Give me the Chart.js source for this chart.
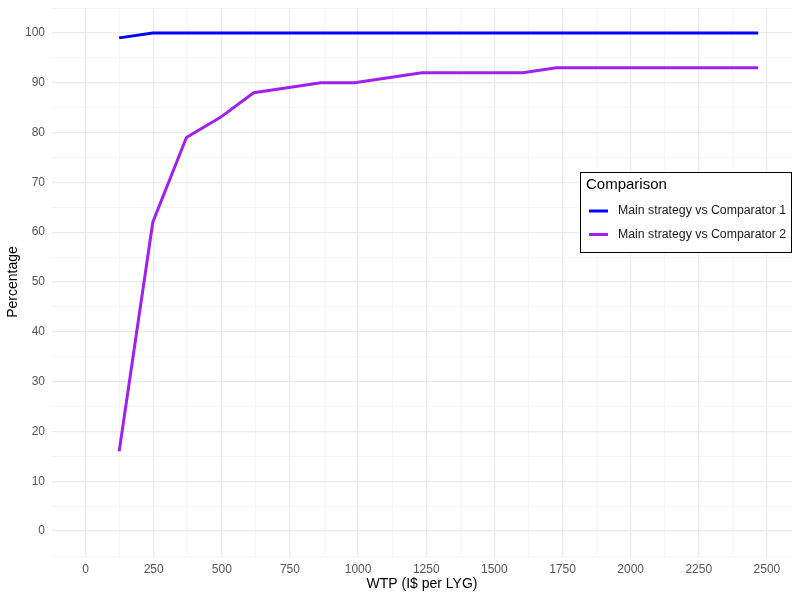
<!DOCTYPE html>
<html>
<head>
<meta charset="utf-8">
<script src="https://cdn.jsdelivr.net/npm/chart.js@4"></script>
<style>
html,body{margin:0;padding:0;background:#fff;}
#wrap{width:800px;height:600px;position:relative;}
</style>
</head>
<body>
<div id="wrap"><canvas id="c" width="800" height="600"></canvas></div>
<script>
// WTP values (I$ per LYG)
const wtp = [123.4, 246.8, 370.2, 493.6, 617, 740.4, 863.8, 987.2, 1110.6, 1234, 1357.4, 1480.8, 1604.2, 1727.6, 1851, 1974.4, 2097.8, 2221.2, 2344.6, 2468];
const comparator1 = [99, 100, 100, 100, 100, 100, 100, 100, 100, 100, 100, 100, 100, 100, 100, 100, 100, 100, 100, 100];
const comparator2 = [16, 62, 79, 83, 88, 89, 90, 90, 91, 92, 92, 92, 92, 93, 93, 93, 93, 93, 93, 93];
const seriesLabels = ['Main strategy vs Comparator 1', 'Main strategy vs Comparator 2'];
const seriesColors = ['#0000FF', '#A020F0'];
const xTickLabels = [0, 250, 500, 750, 1000, 1250, 1500, 1750, 2000, 2250, 2500];
const yTickLabels = [0, 10, 20, 30, 40, 50, 60, 70, 80, 90, 100];
const legendTitle = 'Comparison';
const xTitle = 'WTP (I$ per LYG)';
const yTitle = 'Percentage';

const FONT = "'Liberation Sans', Arial, Helvetica, sans-serif";

function toXY(xs, ys){ return xs.map((x,i)=>({x:x, y:ys[i]})); }

// major + minor (midpoint) ticks
function withMinor(major){
  const out = [];
  const step = major[1]-major[0];
  out.push(major[0]-step/2);
  major.forEach(v=>{ out.push(v); out.push(v+step/2); });
  return out;
}

const legendPlugin = {
  id: 'boxLegend',
  afterDraw(chart){
    const ctx = chart.ctx;
    const x0 = 580.5, y0 = 172.5, w = 211, h = 80;
    ctx.save();
    ctx.fillStyle = '#ffffff';
    ctx.fillRect(x0, y0, w, h);
    ctx.strokeStyle = '#000000';
    ctx.lineWidth = 1;
    ctx.strokeRect(x0, y0, w, h);
    ctx.fillStyle = '#000000';
    ctx.font = '15px ' + FONT;
    ctx.textBaseline = 'middle';
    ctx.textAlign = 'left';
    ctx.fillText(legendTitle, 586, 185);
    ctx.font = '12.3px ' + FONT;
    chart.data.datasets.forEach((ds,i)=>{
      const yy = 211 + i*23.5;
      ctx.strokeStyle = ds.borderColor;
      ctx.lineWidth = 3;
      ctx.beginPath();
      ctx.moveTo(589, yy);
      ctx.lineTo(608, yy);
      ctx.stroke();
      ctx.fillStyle = '#1a1a1a';
      ctx.fillText(ds.label, 618, yy);
    });
    ctx.restore();
  }
};

new Chart(document.getElementById('c'), {
  type: 'line',
  data: {
    datasets: [
      { label: seriesLabels[0], data: toXY(wtp, comparator1), borderColor: seriesColors[0], backgroundColor: seriesColors[0], borderWidth: 3, pointRadius: 0, tension: 0, fill: false },
      { label: seriesLabels[1], data: toXY(wtp, comparator2), borderColor: seriesColors[1], backgroundColor: seriesColors[1], borderWidth: 3, pointRadius: 0, tension: 0, fill: false }
    ]
  },
  options: {
    responsive: false,
    animation: false,
    layout: { padding: { left: 0, right: 8, top: 8, bottom: 0 } },
    plugins: { legend: { display: false }, tooltip: { enabled: false } },
    scales: {
      x: {
        type: 'linear',
        min: -123,
        max: 2592,
        border: { display: false },
        afterBuildTicks(scale){
          scale.ticks = withMinor(xTickLabels).filter(v=>v>=scale.min && v<=scale.max).map(v=>({value:v}));
        },
        afterFit(scale){ scale.height = 44; scale.paddingLeft = 0; scale.paddingRight = 0; },
        grid: {
          drawTicks: false,
          color: ctx => (xTickLabels.includes(ctx.tick.value) ? '#ebebeb' : '#f3f3f3'),
          lineWidth: ctx => (xTickLabels.includes(ctx.tick.value) ? 1.2 : 0.8)
        },
        ticks: {
          autoSkip: false,
          maxRotation: 0,
          padding: 6,
          color: '#555555',
          font: { family: FONT, size: 12 },
          callback: v => (xTickLabels.includes(v) ? String(v) : '')
        },
        title: { display: true, text: xTitle, color: '#000000', font: { family: FONT, size: 14 }, padding: { top: 0, bottom: 7 } }
      },
      y: {
        type: 'linear',
        min: -5,
        max: 105,
        border: { display: false },
        afterBuildTicks(scale){
          scale.ticks = withMinor(yTickLabels).filter(v=>v>=scale.min && v<=scale.max).map(v=>({value:v}));
        },
        afterFit(scale){ scale.width = 52; scale.paddingTop = 0; scale.paddingBottom = 0; },
        grid: {
          drawTicks: false,
          color: ctx => (yTickLabels.includes(ctx.tick.value) ? '#ebebeb' : '#f3f3f3'),
          lineWidth: ctx => (yTickLabels.includes(ctx.tick.value) ? 1.2 : 0.8)
        },
        ticks: {
          autoSkip: false,
          padding: 7,
          color: '#555555',
          font: { family: FONT, size: 12 },
          callback: v => (yTickLabels.includes(v) ? String(v) : '')
        },
        title: { display: true, text: yTitle, color: '#000000', font: { family: FONT, size: 14 }, padding: { top: 5, bottom: 0 } }
      }
    }
  },
  plugins: [legendPlugin]
});
</script>
</body>
</html>
